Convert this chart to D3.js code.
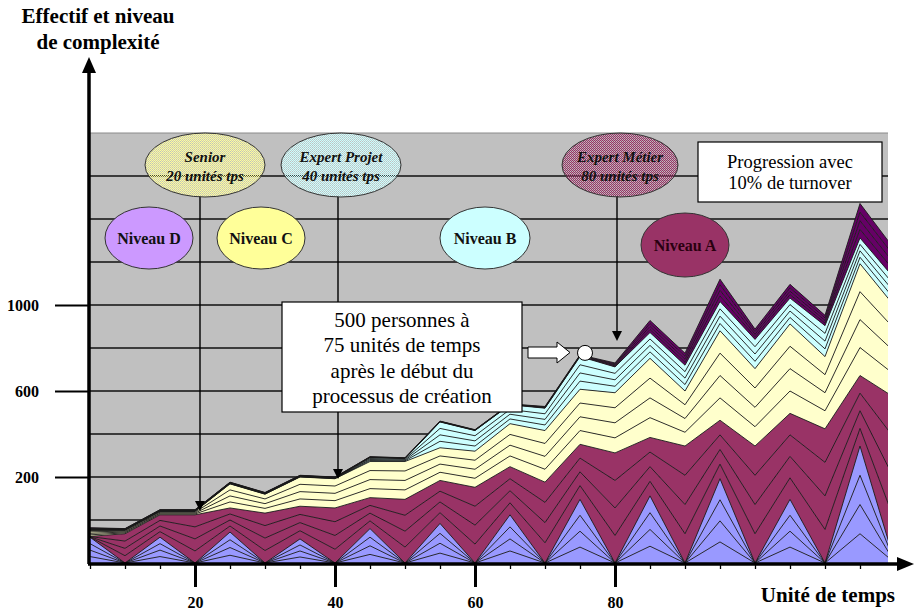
<!DOCTYPE html>
<html>
<head>
<meta charset="utf-8">
<script src="https://cdn.jsdelivr.net/npm/d3@7"></script>
<style>
  body { margin: 0; background: #fff; }
  svg { display: block; font-family: "Liberation Serif", "Times New Roman", serif; }
</style>
</head>
<body>
<svg id="chart" width="916" height="613"></svg>
<script>
// time units (one point every 5 units)
const times = [5,10,15,20,25,30,35,40,45,50,55,60,65,70,75,80,85,90,95,100,105,110,115,120];

// stacked bands, bottom to top, 4 series each
const bandBlue = [
  [15,0,15,0,18,0,14,0,20,0,23,0,28,0,37,0,39,0,49,0,37,0,68,0],
  [15,0,15,0,18,0,14,0,20,0,23,0,28,0,37,0,39,0,49,0,37,0,68,0],
  [15,0,15,0,18,0,14,0,20,0,23,0,28,0,37,0,39,0,49,0,37,0,68,0],
  [15,0,15,0,18,0,14,0,20,0,23,0,28,0,37,0,39,0,49,0,37,0,68,0]
];
const bandMaroon = [
  [0.5,17,13,28,14,29,19,32,18,37,25,44,28,47,32,64,34,68,34,68,50,78,41,96],
  [0.5,17,13,28,14,29,19,32,18,37,25,44,28,47,32,64,34,68,34,68,50,78,41,96],
  [0.5,17,13,28,14,29,19,32,18,37,25,44,28,47,32,64,34,68,34,68,50,78,41,96],
  [0.5,17,13,28,14,29,19,32,18,37,25,44,28,47,32,64,34,68,34,68,50,78,41,96]
];
const bandYellow = [
  [3.5,2,2,2,14,11,17,17,21,22,19,21,25,30,32,35,46,32,52,45,52,42,65,53],
  [3.5,2,2,2,14,11,17,17,21,22,19,21,25,30,32,35,46,32,52,45,52,42,65,53],
  [3.5,2,2,2,14,11,17,17,21,22,19,21,25,30,32,35,46,32,52,45,52,42,65,53],
  [3.5,2,2,2,14,11,17,17,21,22,19,21,25,30,32,35,46,32,52,45,52,42,65,53]
];
const bandCyan = [
  [0.5,0.5,0.5,0.5,0.5,0.5,0.5,0.5,2.3,1.7,15,12,11,13,19,15,15,15,17,17,15,18,15,16],
  [0.5,0.5,0.5,0.5,0.5,0.5,0.5,0.5,2.3,1.7,15,12,11,13,19,15,15,15,17,17,15,18,15,16],
  [0.5,0.5,0.5,0.5,0.5,0.5,0.5,0.5,2.3,1.7,15,12,11,13,19,15,15,15,17,17,15,18,15,16],
  [0.5,0.5,0.5,0.5,0.5,0.5,0.5,0.5,2.3,1.7,15,12,11,13,19,15,15,15,17,17,15,18,15,16]
];
const bandPurple = [
  [1,0.5,0.5,0.5,0.5,0.5,0.5,0.5,0.5,0.5,0.5,0.5,0.5,1,1,2.3,7,7,13,6,8,6,20,17],
  [1,0.5,0.5,0.5,0.5,0.5,0.5,0.5,0.5,0.5,0.5,0.5,0.5,1,1,2.3,7,7,13,6,8,6,20,17],
  [1,0.5,0.5,0.5,0.5,0.5,0.5,0.5,0.5,0.5,0.5,0.5,0.5,1,1,2.3,7,7,13,6,8,6,20,17],
  [1,0.5,0.5,0.5,0.5,0.5,0.5,0.5,0.5,0.5,0.5,0.5,0.5,1,1,2.3,7,7,13,6,8,6,20,17]
];
const bands = [
  {name: "blue", color: "#9999FF", series: bandBlue},
  {name: "maroon", color: "#993366", series: bandMaroon},
  {name: "yellow", color: "#FFFFCC", series: bandYellow},
  {name: "cyan", color: "#CCFFFF", series: bandCyan},
  {name: "purple", color: "#660066", series: bandPurple}
];

// axis labels as printed on the chart
const yTickValues = [200, 400, 600];
const yTickLabels = ["200", "600", "1000"];
const xMajorTicks = [20, 40, 60, 80];
const gridValues = [100,200,300,400,500,600,700,800,900];

const svg = d3.select("#chart");
const x = d3.scaleLinear().domain([5, 119]).range([90, 888]);
const y = d3.scaleLinear().domain([0, 1000]).range([563, 133]);
const [x0, x1] = x.range(), [yb, yt] = y.range();

const defs = svg.append("defs");
defs.append("clipPath").attr("id", "plotclip")
  .append("rect").attr("x", x0).attr("y", yt).attr("width", x1 - x0).attr("height", yb - yt);

function dither(id, color) {
  const p = defs.append("pattern").attr("id", id)
    .attr("width", 2).attr("height", 2).attr("patternUnits", "userSpaceOnUse");
  p.append("rect").attr("x", 0).attr("y", 0).attr("width", 1).attr("height", 1).attr("fill", color);
  p.append("rect").attr("x", 1).attr("y", 1).attr("width", 1).attr("height", 1).attr("fill", color);
  p.append("rect").attr("x", 1).attr("y", 0).attr("width", 1).attr("height", 1).attr("fill", color).attr("opacity", 0.25);
}
dither("hSenior", "#FFFF99");
dither("hProjet", "#CCFFFF");
dither("hMetier", "#993366");

// plot area + grid
svg.append("rect").attr("x", x0).attr("y", yt).attr("width", x1 - x0).attr("height", yb - yt)
  .attr("fill", "#C0C0C0");
svg.append("line").attr("x1", x0).attr("x2", x1).attr("y1", yt).attr("y2", yt)
  .attr("stroke", "#8a8a8a").attr("stroke-width", 1);
svg.append("g").selectAll("line").data(gridValues).enter().append("line")
  .attr("x1", x0).attr("x2", x1)
  .attr("y1", d => y(d)).attr("y2", d => y(d))
  .attr("stroke", "#111").attr("stroke-width", 1.4);

// stacked areas
const keys = [], colorOf = {}, rows = times.map(t => ({t}));
bands.forEach(b => b.series.forEach((s, j) => {
  const k = b.name + j;
  keys.push(k);
  colorOf[k] = b.color;
  s.forEach((v, i) => rows[i][k] = v);
}));
const stacked = d3.stack().keys(keys)(rows);

const area = d3.area()
  .x(d => x(d.data.t))
  .y0(d => y(d[0]))
  .y1(d => y(d[1]));
const topLine = d3.line()
  .x(d => x(d.data.t))
  .y(d => y(d[1]));

const layers = svg.append("g").attr("clip-path", "url(#plotclip)");
layers.selectAll("path.area").data(stacked).enter().append("path")
  .attr("class", "area")
  .attr("d", area)
  .attr("fill", d => colorOf[d.key]);
layers.selectAll("path.edge").data(stacked).enter().append("path")
  .attr("class", "edge")
  .attr("d", topLine)
  .attr("fill", "none")
  .attr("stroke", "#1a1a1a")
  .attr("stroke-width", 0.9);

// y axis (custom labels)
const yAxis = svg.append("g").attr("transform", `translate(${x0},0)`)
  .call(d3.axisLeft(y).tickValues(yTickValues).tickFormat((d, i) => yTickLabels[i])
    .tickSize(35).tickPadding(16));
yAxis.select(".domain").remove();
yAxis.selectAll(".tick line").attr("stroke", "#000").attr("stroke-width", 2);
yAxis.selectAll(".tick text").attr("font-family", "Liberation Serif").attr("font-weight", "bold")
  .attr("font-size", 16).attr("fill", "#000");

// x axis: minor ticks at each point, major labelled ticks
const xMinor = svg.append("g").attr("transform", `translate(0,${yb})`)
  .call(d3.axisBottom(x).tickValues(times.filter(t => t < 119)).tickSize(6).tickFormat(""));
xMinor.select(".domain").remove();
xMinor.selectAll(".tick line").attr("stroke", "#000").attr("stroke-width", 1.3);

const xMajor = svg.append("g").attr("transform", `translate(0,${yb})`)
  .call(d3.axisBottom(x).tickValues(xMajorTicks).tickSize(24).tickPadding(10));
xMajor.select(".domain").remove();
xMajor.selectAll(".tick line").attr("stroke", "#000").attr("stroke-width", 3);
xMajor.selectAll(".tick text").attr("font-family", "Liberation Serif").attr("font-weight", "bold")
  .attr("font-size", 16).attr("fill", "#000");

// axis lines with arrow heads
svg.append("line").attr("x1", x0 - 1).attr("x2", x0 - 1).attr("y1", yb + 1).attr("y2", 70)
  .attr("stroke", "#000").attr("stroke-width", 3.5);
svg.append("path").attr("d", `M${x0 - 8},73 L${x0 - 1},57 L${x0 + 6},73 Z`).attr("fill", "#000");
svg.append("line").attr("x1", x0 - 2).attr("x2", 900).attr("y1", yb + 1).attr("y2", yb + 1)
  .attr("stroke", "#000").attr("stroke-width", 3.5);
svg.append("path").attr("d", `M897,${yb - 6} L914,${yb + 1} L897,${yb + 8} Z`).attr("fill", "#000");

// axis titles
const title = svg.append("text").attr("x", 98).attr("font-weight", "bold").attr("font-size", 21)
  .attr("text-anchor", "middle").attr("fill", "#000");
title.append("tspan").attr("x", 98).attr("y", 23).text("Effectif et niveau");
title.append("tspan").attr("x", 98).attr("y", 49).text("de complexité");
svg.append("text").attr("x", 895).attr("y", 602).attr("text-anchor", "end")
  .attr("font-weight", "bold").attr("font-size", 21).text("Unité de temps");

// vertical arrows from the seniority ellipses
function vArrow(xp, yFrom, yTo) {
  svg.append("line").attr("x1", xp).attr("x2", xp).attr("y1", yFrom).attr("y2", yTo - 8)
    .attr("stroke", "#000").attr("stroke-width", 1.4);
  svg.append("path").attr("d", `M${xp - 5},${yTo - 10} L${xp + 5},${yTo - 10} L${xp},${yTo} Z`)
    .attr("fill", "#000");
}
vArrow(200, 196, 511);
vArrow(338, 196, 479);
vArrow(617, 196, 341);

// ellipses
function ellipse(cx, cy, rx, ry, fill, lines, style) {
  const g = svg.append("g");
  g.append("ellipse").attr("cx", cx).attr("cy", cy).attr("rx", rx).attr("ry", ry)
    .attr("fill", fill).attr("stroke", "#333").attr("stroke-width", 1);
  const t = g.append("text").attr("text-anchor", "middle").attr("font-size", style.size)
    .attr("font-weight", "bold").attr("font-style", style.italic ? "italic" : "normal")
    .attr("fill", style.color || "#111");
  lines.forEach((s, i) => t.append("tspan").attr("x", cx).attr("y", style.y0 + i * 19).text(s));
}
ellipse(205, 165, 60, 32, "url(#hSenior)", ["Senior", "20 unités tps"], {size: 15, italic: true, y0: 162});
ellipse(341, 165, 60, 32, "url(#hProjet)", ["Expert Projet", "40 unités tps"], {size: 15, italic: true, y0: 162});
ellipse(620, 165, 58, 32, "url(#hMetier)", ["Expert Métier", "80 unités tps"], {size: 15, italic: true, y0: 162});
ellipse(149, 238, 44, 31, "#CC99FF", ["Niveau D"], {size: 16, y0: 244});
ellipse(261, 238, 44, 31, "#FFFF99", ["Niveau C"], {size: 16, y0: 244});
ellipse(485, 238, 45, 31, "#CCFFFF", ["Niveau B"], {size: 16, y0: 244});
ellipse(685, 245, 44, 32, "#993366", ["Niveau A"], {size: 16, y0: 251, color: "#2a0010"});

// annotation: 500 personnes
svg.append("rect").attr("x", 282).attr("y", 302).attr("width", 240).attr("height", 110)
  .attr("fill", "#fff").attr("stroke", "#000").attr("stroke-width", 1.2);
const note = svg.append("text").attr("text-anchor", "middle").attr("font-size", 21).attr("fill", "#000");
["500 personnes à", "75 unités de temps", "après le début du", "processus de création"]
  .forEach((s, i) => note.append("tspan").attr("x", 402).attr("y", 327 + i * 25.3).text(s));

svg.append("path")
  .attr("d", "M528,347 L557,347 L557,342 L570,352.5 L557,363 L557,358 L528,358 Z")
  .attr("fill", "#fff").attr("stroke", "#000").attr("stroke-width", 1);
const i75 = times.indexOf(75);
const top75 = stacked[stacked.length - 1][i75][1];
svg.append("circle").attr("cx", x(75) + 5).attr("cy", y(top75) - 2).attr("r", 7.5)
  .attr("fill", "#fff").attr("stroke", "#000").attr("stroke-width", 1);

// annotation: turnover
svg.append("rect").attr("x", 698).attr("y", 142).attr("width", 184).attr("height", 60)
  .attr("fill", "#fff").attr("stroke", "#000").attr("stroke-width", 1.2);
const note2 = svg.append("text").attr("text-anchor", "middle").attr("font-size", 18.5).attr("fill", "#000");
note2.append("tspan").attr("x", 790).attr("y", 168).text("Progression avec");
note2.append("tspan").attr("x", 790).attr("y", 189).text("10% de turnover");
</script>
</body>
</html>
